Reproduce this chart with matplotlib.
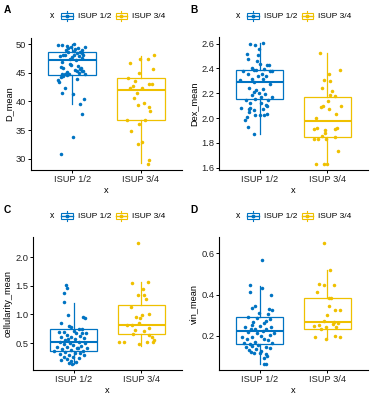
import matplotlib
matplotlib.use("Agg")
import matplotlib.pyplot as plt
from matplotlib.patches import Rectangle
from matplotlib.lines import Line2D

plt.rcParams['font.family'] = ['Liberation Sans', 'DejaVu Sans']

categories = ["ISUP 1/2", "ISUP 3/4"]
colors = ["#0073C2", "#EFC000"]
panel_letters = ["A", "B", "C", "D"]
y_labels = ["D_mean", "Dex_mean", "cellularity_mean", "vin_mean"]
y_ticks_A = [30, 35, 40, 45, 50]
y_ticks_B = [1.6, 1.8, 2.0, 2.2, 2.4, 2.6]
y_ticks_C = [0.5, 1.0, 1.5, 2.0]
y_ticks_D = [0.2, 0.4, 0.6]

# ---- Panel A: D_mean ----
A_blue_y = [49.89, 49.78, 50.0, 49.03, 49.32, 49.49, 49.2, 49.32, 49.03, 49.44,
            48.63, 48.45, 48.17, 48.63, 48.17, 47.88, 48.05, 47.71, 47.88, 48.05,
            47.59, 47.13, 47.3, 46.9, 46.56, 46.04, 45.87, 46.16, 45.58, 45.29,
            45.29, 45.01, 44.83, 45.12, 44.83, 44.72, 44.43, 44.6, 44.72, 43.68,
            43.45, 43.97, 42.42, 41.38, 41.27, 40.41, 39.49, 37.82, 33.86, 30.75,
            49.6, 48.8, 48.4, 46.3, 45.9, 45.4, 45.3, 44.3]
A_blue_dx = [-0.20, -0.15, 0.02, -0.095, -0.056, -0.022, 0.046, 0.08, 0.14, 0.19,
             0.11, 0.065, 0.02, -0.056, -0.105, -0.18, -0.13, -0.008, 0.094, 0.16,
             0.14, 0.055, -0.03, -0.15, -0.03, -0.16, -0.13, 0.09, 0.11, 0.065,
             0.14, 0.10, 0.19, -0.08, -0.105, -0.15, -0.13, -0.08, -0.047, -0.20,
             -0.19, 0.075, -0.10, -0.15, 0.007, 0.17, 0.11, 0.14, 0.007, -0.17,
             -0.08, 0.03, 0.15, -0.02, 0.13, 0.04, 0.16, -0.16]
A_yel_y = [48.17, 46.73, 47.41, 47.31, 45.59, 45.0, 44.03, 43.57, 42.71, 42.31,
           42.41, 42.99, 42.99, 41.5, 40.59, 39.31, 39.66, 39.03, 38.4, 36.67,
           36.79, 34.83, 35.98, 32.93, 32.53, 29.78, 29.09]
A_yel_dx = [0.19, -0.16, -0.01, 0.11, 0.18, -0.02, -0.19, -0.09, -0.11, -0.16,
            0.015, 0.12, 0.16, -0.05, -0.10, -0.04, 0.04, 0.12, 0.13, -0.20,
            0.06, -0.14, -0.03, 0.02, -0.04, 0.12, 0.11]
A_box_blue = [39.54, 44.54, 47.24, 48.62, 49.95]
A_box_yel = [29.2, 36.78, 41.95, 44.14, 47.99]

# ---- Panel B: Dex_mean ----
B_blue_y = [2.600, 2.605, 2.587, 2.560, 2.514, 2.506, 2.479, 2.458, 2.439, 2.431,
            2.426, 2.404, 2.391, 2.386, 2.399, 2.380, 2.377, 2.359, 2.353, 2.337,
            2.318, 2.318, 2.292, 2.278, 2.305, 2.246, 2.238, 2.230, 2.211, 2.203,
            2.184, 2.198, 2.166, 2.144, 2.155, 2.123, 2.144, 2.123, 2.104, 2.085,
            2.077, 2.096, 2.077, 2.064, 2.048, 2.024, 2.021, 2.026, 2.029, 2.005,
            1.983, 1.924, 1.868, 2.085, 2.171, 2.337, 2.377]
B_blue_dx = [-0.143, 0.044, -0.064, -0.015, -0.192, -0.030, -0.167, -0.039, 0.005, 0.133,
             0.108, -0.113, -0.089, -0.054, 0.069, 0.182, -0.251, -0.167, 0.034, 0.094,
             0.044, -0.113, -0.079, 0.158, -0.286, -0.163, 0.054, -0.054, -0.089, -0.015,
             -0.113, 0.074, 0.182, -0.202, -0.064, -0.138, 0.128, 0.025, 0.094, -0.276,
             -0.153, 0.113, 0.044, -0.079, -0.163, -0.064, 0.010, 0.059, 0.108, -0.187,
             -0.212, -0.177, -0.089, -0.138, 0.020, -0.030, 0.153]
B_yel_y = [2.525, 2.386, 2.359, 2.305, 2.300, 2.246, 2.222, 2.184, 2.176, 2.139,
           2.091, 2.101, 2.101, 2.075, 2.032, 1.997, 1.922, 1.911, 1.900, 1.882,
           1.914, 1.922, 1.828, 1.828, 1.833, 1.855, 1.849, 1.737, 1.630, 1.630,
           1.630]
B_yel_dx = [-0.108, 0.182, 0.020, -0.044, 0.039, -0.074, 0.069, 0.044, 0.118, 0.010,
            -0.094, -0.059, 0.207, 0.030, 0.128, -0.167, -0.153, -0.197, -0.039, -0.030,
            0.113, 0.138, -0.202, -0.143, -0.020, -0.079, 0.113, 0.163, -0.167, -0.044,
            -0.010]
B_box_blue = [1.868, 2.150, 2.289, 2.391, 2.605]
B_box_yel = [1.630, 1.844, 1.975, 2.168, 2.525]

# ---- Panel C: cellularity_mean ----
C_blue_y = [1.512, 1.471, 1.384, 1.221, 0.988, 0.959, 0.936, 0.843, 0.797, 0.785,
            0.750, 0.738, 0.715, 0.698, 0.680, 0.669, 0.645, 0.622, 0.610, 0.599,
            0.581, 0.564, 0.552, 0.523, 0.523, 0.506, 0.494, 0.483, 0.471, 0.453,
            0.436, 0.424, 0.413, 0.407, 0.390, 0.378, 0.366, 0.366, 0.349, 0.331,
            0.320, 0.308, 0.291, 0.285, 0.262, 0.250, 0.233, 0.215, 0.203, 0.180,
            0.169, 0.145, 0.134, 0.407, 0.564, 0.669, 0.686]
C_blue_dx = [-0.113, -0.103, -0.147, -0.137, -0.078, 0.137, 0.162, -0.181, -0.074, -0.034,
             0.078, 0.123, 0.0, -0.137, 0.186, 0.039, -0.098, 0.098, -0.181, -0.034,
             0.147, 0.025, -0.123, -0.206, 0.074, -0.059, 0.172, -0.147, -0.010, 0.113,
             -0.098, -0.245, 0.049, 0.196, -0.172, -0.039, -0.294, 0.137, -0.123, 0.025,
             0.088, -0.196, -0.074, 0.157, -0.147, -0.010, 0.074, -0.098, -0.181, -0.039,
             0.039, -0.074, -0.025, 0.059, -0.083, 0.123, -0.221]
C_yel_y = [2.250, 1.552, 1.576, 1.453, 1.343, 1.343, 1.273, 1.134, 1.006, 0.983,
           0.959, 0.930, 0.843, 0.808, 0.814, 0.767, 0.733, 0.715, 0.651, 0.645,
           0.610, 0.552, 0.523, 0.512, 0.512, 0.512, 0.483]
C_yel_dx = [-0.049, -0.132, 0.093, 0.029, -0.054, 0.039, 0.069, -0.152, 0.118, 0.005,
            -0.078, -0.020, -0.029, -0.206, -0.142, 0.118, -0.093, 0.039, -0.118, 0.113,
            0.152, 0.191, 0.167, -0.324, -0.250, 0.078, -0.029]
C_box_blue = [0.134, 0.366, 0.512, 0.744, 1.20]
C_box_yel = [0.453, 0.663, 0.820, 1.157, 1.57]

# ---- Panel D: vin_mean ----
D_blue_y = [0.569, 0.444, 0.431, 0.411, 0.398, 0.344, 0.337, 0.332, 0.324, 0.311,
            0.289, 0.285, 0.282, 0.273, 0.260, 0.253, 0.247, 0.244, 0.240, 0.235,
            0.231, 0.231, 0.224, 0.219, 0.215, 0.211, 0.203, 0.198, 0.192, 0.182,
            0.179, 0.185, 0.171, 0.166, 0.163, 0.160, 0.156, 0.150, 0.147, 0.144,
            0.139, 0.134, 0.131, 0.127, 0.123, 0.118, 0.115, 0.111, 0.102, 0.090,
            0.063, 0.063, 0.192, 0.268, 0.305]
D_blue_dx = [0.034, -0.137, 0.029, -0.147, 0.162, -0.074, -0.108, 0.132, 0.186, -0.010,
             -0.167, -0.039, 0.157, 0.098, 0.064, -0.108, 0.010, 0.172, -0.221, -0.123,
             -0.074, 0.098, 0.049, -0.172, 0.206, -0.039, 0.147, 0.025, -0.118, -0.186,
             0.123, 0.059, -0.074, 0.186, -0.235, -0.147, -0.025, -0.108, 0.088, -0.196,
             0.157, -0.059, -0.157, 0.025, -0.123, 0.010, -0.083, 0.088, 0.108, 0.059,
             0.059, 0.088, -0.255, -0.098, 0.123]
D_yel_y = [0.650, 0.518, 0.453, 0.445, 0.445, 0.410, 0.385, 0.384, 0.344, 0.327,
           0.324, 0.303, 0.273, 0.268, 0.260, 0.252, 0.247, 0.235, 0.244, 0.244,
           0.195, 0.198, 0.195, 0.182, 0.256]
D_yel_dx = [-0.044, 0.039, -0.127, 0.093, -0.044, -0.152, 0.020, 0.054, 0.020, 0.113,
            0.191, -0.010, -0.054, 0.093, 0.162, -0.118, -0.201, -0.093, 0.127, -0.020,
            -0.176, 0.118, 0.181, -0.020, 0.078]
D_box_blue = [0.063, 0.160, 0.221, 0.289, 0.44]
D_box_yel = [0.184, 0.235, 0.268, 0.384, 0.518]

panels = [
    (A_blue_y, A_blue_dx, A_yel_y, A_yel_dx, A_box_blue, A_box_yel, y_ticks_A),
    (B_blue_y, B_blue_dx, B_yel_y, B_yel_dx, B_box_blue, B_box_yel, y_ticks_B),
    (C_blue_y, C_blue_dx, C_yel_y, C_yel_dx, C_box_blue, C_box_yel, y_ticks_C),
    (D_blue_y, D_blue_dx, D_yel_y, D_yel_dx, D_box_blue, D_box_yel, y_ticks_D),
]

W, H = 373, 400
fig = plt.figure(figsize=(W / 100, H / 100), dpi=100)

# axes boxes in pixels: left, top, right, bottom
ax_boxes = [(31, 38, 182, 170), (219, 37, 368, 170),
            (33, 237, 182, 370), (219, 237, 368, 370)]
# panel origin offsets
origins = [(0, 0), (186, 0), (0, 200), (186, 200)]


def fx(x):
    return x / W


def fy(y):
    return 1 - y / H


def tick_fmt(t):
    return ("%g" % t) if float(t).is_integer() and abs(t) >= 10 else ("%.1f" % t)


for i, (by, bdx, yy, ydx, bbox, ybox, yticks) in enumerate(panels):
    l, t, r, b = ax_boxes[i]
    ax = fig.add_axes([fx(l), fy(b), fx(r) - fx(l), fy(t) - fy(b)])
    stats = []
    for box in (bbox, ybox):
        stats.append(dict(whislo=box[0], q1=box[1], med=box[2], q3=box[3],
                          whishi=box[4], fliers=[]))
    for k, st in enumerate(stats):
        c = colors[k]
        ax.bxp([st], positions=[k + 1], widths=0.7, showfliers=False,
               showcaps=False, patch_artist=True,
               boxprops=dict(facecolor="white", edgecolor=c, linewidth=0.9),
               medianprops=dict(color=c, linewidth=1.5),
               whiskerprops=dict(color=c, linewidth=0.9))
    ax.scatter([1 + d for d in bdx], by, s=6.5, color=colors[0], zorder=5,
               linewidths=0)
    ax.scatter([2 + d for d in ydx], yy, s=6.5, color=colors[1], zorder=5,
               linewidths=0)
    allv = by + yy + bbox + ybox
    lo, hi = min(allv), max(allv)
    rng = hi - lo
    ax.set_ylim(lo - 0.05 * rng, hi + 0.05 * rng)
    ax.set_xlim(0.4, 2.6)
    ax.set_xticks([1, 2])
    ax.set_xticklabels(categories, fontsize=6.7, color="#222222")
    ax.set_yticks(yticks)
    ax.set_yticklabels([tick_fmt(v) for v in yticks], fontsize=6.7,
                       color="#222222")
    ax.set_xlabel("x", fontsize=6.7, labelpad=1.5)
    ax.set_ylabel(y_labels[i], fontsize=6.7, labelpad=2)
    for s in ("top", "right"):
        ax.spines[s].set_visible(False)
    for s in ("left", "bottom"):
        ax.spines[s].set_linewidth(0.8)
    ax.tick_params(length=2, width=0.7, pad=1.5)

    # panel letter & legend
    ox, oy = origins[i]
    fig.text(fx(ox + 4), fy(oy + 10), panel_letters[i], fontsize=7.3,
             fontweight="bold", va="center", ha="left")
    ly = oy + 16
    fig.text(fx(ox + 52), fy(ly), "x", fontsize=6.2, va="center", ha="center")
    key_x = [ox + 61, ox + 115.5]
    txt_x = [ox + 77.5, ox + 132.5]
    for k in range(2):
        c = colors[k]
        kx0 = key_x[k]
        kw = 11.5
        fig.add_artist(Line2D([fx(kx0 + kw / 2)] * 2, [fy(ly - 4.8), fy(ly + 4.8)],
                              color=c, linewidth=0.8))
        fig.add_artist(Rectangle((fx(kx0), fy(ly + 3.2)), kw / W, 6.4 / H,
                                 facecolor="white", edgecolor=c, linewidth=0.8,
                                 zorder=3))
        fig.add_artist(Line2D([fx(kx0), fx(kx0 + kw)], [fy(ly)] * 2, color=c,
                              linewidth=1.0, zorder=4))
        fig.add_artist(Line2D([fx(kx0 + kw / 2)], [fy(ly)], marker="o",
                              markersize=1.8, color=c, linewidth=0, zorder=5))
        fig.text(fx(txt_x[k]), fy(ly), categories[k], fontsize=6.0,
                 va="center", ha="left")

fig.savefig("out.png", dpi=100)
